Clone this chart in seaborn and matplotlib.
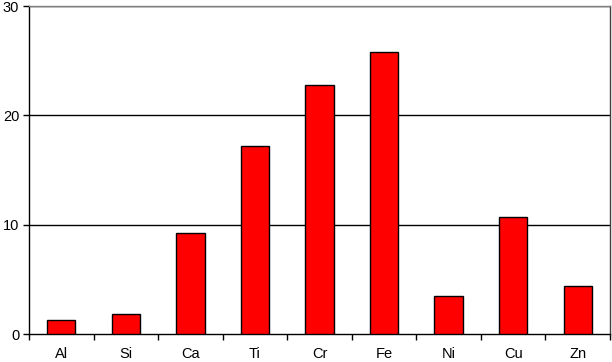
import numpy as np
import pandas as pd
import matplotlib.pyplot as plt
import seaborn as sns

# element concentrations
elements = ['Al', 'Si', 'Ca', 'Ti', 'Cr', 'Fe', 'Ni', 'Cu', 'Zn']
values = [1.3, 1.8, 9.2, 17.2, 22.8, 25.8, 3.5, 10.7, 4.4]
y_ticks = [0, 10, 20, 30]

df = pd.DataFrame({'element': elements, 'value': values})

sns.set_style('white')
plt.rcParams['font.family'] = ['Liberation Sans', 'DejaVu Sans']

fig = plt.figure(figsize=(6.12, 3.62), dpi=100)
ax = fig.add_axes([29 / 612, 28 / 362, 581 / 612, 328 / 362])

sns.barplot(data=df, x='element', y='value', color='#ff0000', width=0.44,
            edgecolor='black', linewidth=1, saturation=1, ax=ax, zorder=3)

ax.set_ylim(0, 30)
ax.set_xlim(-0.5, len(elements) - 0.5)
ax.set_yticks(y_ticks)
ax.set_yticklabels([str(t) for t in y_ticks], fontsize=10.5, color='black')
for t in y_ticks[1:]:
    ax.axhline(t, color='black', linewidth=1, zorder=1)

# category labels centred, tick marks between categories (Excel style)
ax.set_xticks(np.arange(len(elements)))
ax.set_xticklabels(elements, fontsize=10.5, color='black')
ax.tick_params(axis='x', which='major', bottom=True, length=0, pad=9)
ax.set_xticks(np.arange(len(elements) + 1) - 0.5, minor=True)
ax.tick_params(axis='x', which='minor', bottom=True, length=4, width=1,
               color='black', direction='out')
ax.tick_params(axis='y', left=True, length=4, width=1, color='black',
               direction='out', pad=3)

for s in ax.spines.values():
    s.set_color('black')
    s.set_linewidth(1)
ax.spines['top'].set_color('#808080')
ax.spines['right'].set_color('#404040')

ax.set_xlabel('')
ax.set_ylabel('')

fig.savefig('out.png', dpi=100)
